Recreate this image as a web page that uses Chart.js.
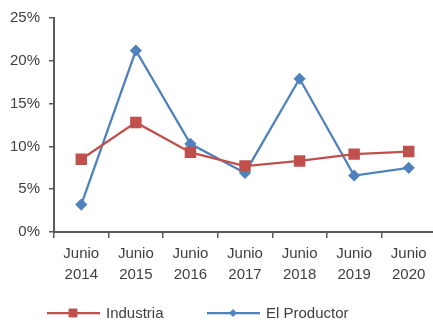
<!DOCTYPE html>
<html>
<head>
<meta charset="utf-8">
<script src="https://cdn.jsdelivr.net/npm/chart.js@4/dist/chart.umd.min.js"></script>
<style>
  html, body { margin: 0; padding: 0; background: #fff; }
  #wrap { width: 433px; height: 320px; overflow: hidden; }
</style>
</head>
<body>
<div id="wrap"><canvas id="myChart" width="436" height="320"></canvas></div>
<script>
const categories = [["Junio", "2014"], ["Junio", "2015"], ["Junio", "2016"], ["Junio", "2017"], ["Junio", "2018"], ["Junio", "2019"], ["Junio", "2020"]];
const industria = [8.5, 12.8, 9.3, 7.7, 8.3, 9.1, 9.4];
const elProductor = [3.2, 21.2, 10.3, 6.9, 17.9, 6.6, 7.5];
const yTicks = [0, 5, 10, 15, 20, 25];

const red = "#C0504D";
const blue = "#4F81BD";
const textColor = "#404040";
const axisColor = "#595959";
const fontFamily = "'Liberation Sans', Arial, sans-serif";

// legend with a short line and a smaller marker on it
const lineLegend = {
    id: "lineLegend",
    afterDraw(chart) {
        const ctx = chart.ctx;
        const y = 313;
        const spots = [47, 207];
        const sizes = [5.6, 3.5];
        chart.data.datasets.forEach((ds, i) => {
            const x0 = spots[i];
            ctx.save();
            ctx.strokeStyle = ds.borderColor;
            ctx.lineWidth = ds.borderWidth;
            ctx.beginPath();
            ctx.moveTo(x0, y);
            ctx.lineTo(x0 + 53, y);
            ctx.stroke();
            ctx.fillStyle = ds.pointBackgroundColor;
            ctx.lineWidth = 1;
            Chart.helpers.drawPoint(ctx, {
                pointStyle: ds.pointStyle,
                radius: sizes[i],
                borderWidth: 1
            }, x0 + 26, y);
            ctx.fillStyle = textColor;
            ctx.font = "15px " + fontFamily;
            ctx.textBaseline = "middle";
            ctx.fillText(ds.label, x0 + 59, y + 1);
            ctx.restore();
        });
    }
};

const ctx = document.getElementById("myChart").getContext("2d");
const myChart = new Chart(ctx, {
    type: "line",
    data: {
        labels: categories,
        datasets: [{
            label: "Industria",
            data: industria,
            borderColor: red,
            backgroundColor: red,
            pointBackgroundColor: red,
            pointBorderColor: red,
            borderWidth: 2.25,
            pointStyle: "rect",
            pointRadius: 6.5,
            pointHoverRadius: 6.5,
            tension: 0
        }, {
            label: "El Productor",
            data: elProductor,
            borderColor: blue,
            backgroundColor: blue,
            pointBackgroundColor: blue,
            pointBorderColor: blue,
            borderWidth: 2.25,
            pointStyle: "rectRot",
            pointRadius: 4.5,
            pointHoverRadius: 4.5,
            tension: 0
        }]
    },
    options: {
        responsive: false,
        animation: false,
        layout: { autoPadding: false, padding: { top: 18, right: 0, bottom: 38, left: 0 } },
        plugins: {
            legend: { display: false },
            tooltip: { enabled: false }
        },
        scales: {
            x: {
                offset: true,
                grid: {
                    offset: true,
                    drawOnChartArea: false,
                    drawTicks: true,
                    tickLength: 6,
                    color: axisColor,
                    lineWidth: 1.5
                },
                border: { color: axisColor, width: 2 },
                ticks: {
                    color: textColor,
                    padding: 5,
                    maxRotation: 0,
                    autoSkip: false,
                    font: { family: fontFamily, size: 15, lineHeight: 1.4 }
                },
                afterFit(scale) { scale.height = 50; }
            },
            y: {
                min: 0,
                max: 25,
                afterBuildTicks(scale) { scale.ticks = yTicks.map(v => ({ value: v })); },
                grid: {
                    drawOnChartArea: false,
                    drawTicks: true,
                    tickLength: 5,
                    color: axisColor,
                    lineWidth: 1.5
                },
                border: { color: axisColor, width: 2 },
                ticks: {
                    color: textColor,
                    padding: 9,
                    callback: v => v + "%",
                    font: { family: fontFamily, size: 15 }
                },
                afterFit(scale) { scale.width = 54; }
            }
        }
    },
    plugins: [lineLegend]
});
</script>
</body>
</html>
